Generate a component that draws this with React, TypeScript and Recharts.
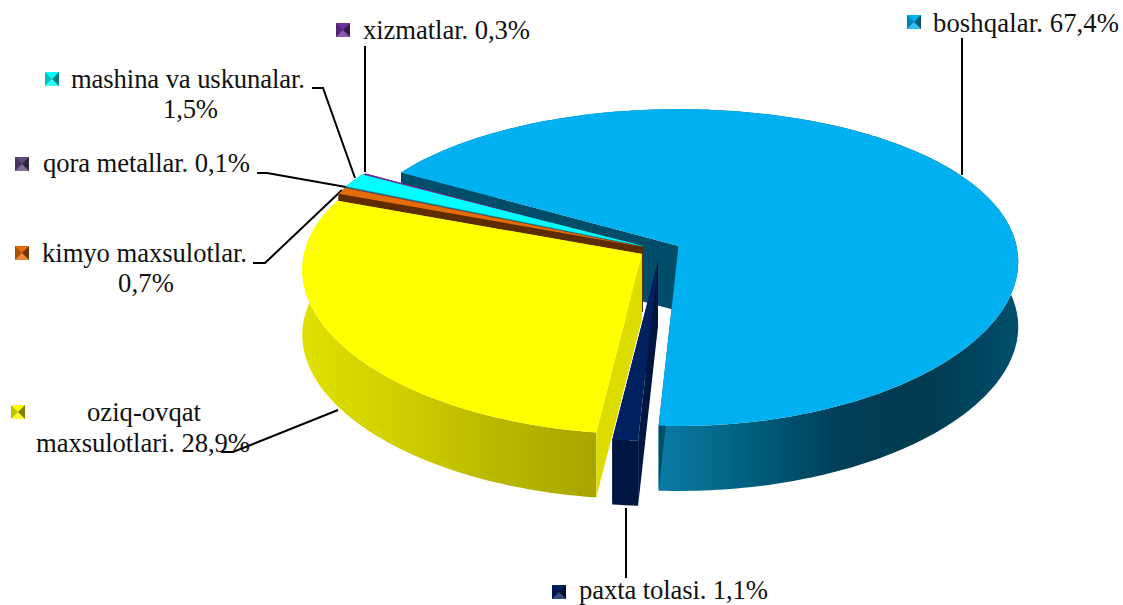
import { Pie, PieChart } from "recharts";

const names = [
  "boshqalar",
  "paxta tolasi",
  "oziq-ovqat maxsulotlari",
  "kimyo maxsulotlar",
  "qora metallar",
  "mashina va uskunalar",
  "xizmatlar",
];
const shares = [67.4, 1.1, 28.9, 0.7, 0.1, 1.5, 0.3];

const topColors = ["#00B0F0", "#002060", "#FFFF00", "#E36C09", "#604A7B", "#00FFFF", "#7030A0"];
const wallColors = ["#004D69", "#00153F", "#DCDC00", "#5F2C00", "#3F3051", "#00A8A8", "#4A2069"];
const rimStops = [
  ["#0A7BA3", "#00607F", "#003F58", "#003A50", "#004F6C"],
  ["#00153F", "#00153F"],
  ["#E0E000", "#CFCF00", "#B8B800", "#A6A600"],
  ["#5F2C00", "#5F2C00"],
  ["#3F3051", "#3F3051"],
  ["#00A8A8", "#00A8A8"],
  ["#4A2069", "#4A2069"],
];

// how far each slice is pulled out of the pie, in pixels
const pullX = [0.5, -20, -36, -35, -35, -35, -35];
const pullY = [0, 15, 8, 1, 1, 0, 1];

// back to front
const paintOrder = [0, 6, 5, 4, 3, 2, 1];

const rows = names.map((name, i) => ({ name, value: shares[i] }));

const WIDTH = 1123;
const HEIGHT = 605;
const RADIUS = 338;
const TILT = 0.46;
const PERSPECTIVE_X = 0.1;
const PERSPECTIVE_Y = 0.136;
const DEPTH = 65;

interface Pt {
  x: number;
  y: number;
  v: number;
}

function toPath(points: Pt[]) {
  return points.map((p, i) => `${i === 0 ? "M" : "L"}${p.x.toFixed(1)} ${p.y.toFixed(1)}`).join(" ") + " Z";
}

function shifted(points: Pt[]) {
  return points.map((p) => ({ ...p, y: p.y + DEPTH }));
}

function rimPoints(ax: number, ay: number, r: number, startAngle: number, endAngle: number) {
  const steps = Math.max(2, Math.ceil(Math.abs(endAngle - startAngle)));
  const out: Pt[] = [];
  for (let i = 0; i <= steps; i += 1) {
    const a = ((startAngle + ((endAngle - startAngle) * i) / steps) * Math.PI) / 180;
    const u = Math.cos(a);
    const v = -Math.sin(a);
    const sx = 1 / (1 - PERSPECTIVE_X * v);
    const sy = 1 / (1 - PERSPECTIVE_Y * v);
    out.push({ x: ax + r * u * sx, y: ay + r * TILT * v * sy, v });
  }
  return out;
}

// draws one slice as a tilted solid, only for the slice named by idx
function sliceShape(idx: number) {
  return function SliceShape(props: any) {
    if (props.name !== names[idx]) return null;
    const ax = props.cx + pullX[idx];
    const ay = props.cy + pullY[idx];
    const rim = rimPoints(ax, ay, props.outerRadius, props.startAngle, props.endAngle);
    const apex: Pt = { x: ax, y: ay, v: 0 };
    const first = rim[0];
    const last = rim[rim.length - 1];
    const front = rim.filter((p) => p.v > -0.02);
    const xs = (front.length > 1 ? front : rim).map((p) => p.x);
    const gradId = `rim-${idx}`;
    const stops = rimStops[idx];
    return (
      <g>
        <defs>
          <linearGradient id={gradId} gradientUnits="userSpaceOnUse" x1={Math.min(...xs)} x2={Math.max(...xs)} y1={0} y2={0}>
            {stops.map((c, i) => (
              <stop key={i} offset={i / (stops.length - 1)} stopColor={c} />
            ))}
          </linearGradient>
        </defs>
        <path d={toPath([...rim, ...shifted(rim).reverse()])} fill={`url(#${gradId})`} />
        <path d={toPath([apex, first, ...shifted([first, apex])])} fill={wallColors[idx]} />
        <path d={toPath([apex, last, ...shifted([last, apex])])} fill={wallColors[idx]} />
        <path d={toPath([apex, ...rim])} fill={topColors[idx]} />
      </g>
    );
  };
}

const labelLines = [
  { text: "boshqalar. 67,4%", x: 933, y: 32, w: 186 },
  { text: "xizmatlar. 0,3%", x: 363, y: 39, w: 167 },
  { text: "mashina va uskunalar.", x: 71, y: 88, w: 234 },
  { text: "1,5%", x: 163, y: 118, w: 55 },
  { text: "qora metallar. 0,1%", x: 43, y: 172, w: 207 },
  { text: "kimyo maxsulotlar.", x: 42, y: 262, w: 205 },
  { text: "0,7%", x: 118, y: 292, w: 56 },
  { text: "oziq-ovqat", x: 87, y: 421, w: 114 },
  { text: "maxsulotlari. 28,9%", x: 36, y: 452, w: 214 },
  { text: "paxta tolasi. 1,1%", x: 579, y: 599, w: 189 },
];

const leaders = [
  "962,38 962,175",
  "365,46 365,172",
  "312,88 323,88 355,178",
  "257,173 267,173 346,187",
  "253,263 265,263 342,190",
  "221,452 233,452 338,410",
  "626,508 626,578",
];

const legendKeys = [
  { idx: 0, x: 907, y: 15 },
  { idx: 6, x: 336, y: 23 },
  { idx: 5, x: 45, y: 72 },
  { idx: 4, x: 15, y: 157 },
  { idx: 3, x: 15, y: 246 },
  { idx: 2, x: 11, y: 405 },
  { idx: 1, x: 552, y: 585 },
];

function LegendKey({ idx, x, y }: { idx: number; x: number; y: number }) {
  const n = 14;
  const cx = x + n / 2;
  const cy = y + n / 2;
  return (
    <g>
      <rect x={x} y={y} width={n} height={n} fill={topColors[idx]} />
      <polygon points={`${x},${y} ${cx},${cy} ${x},${y + n}`} fill="#000" fillOpacity={0.25} />
      <polygon points={`${x + n},${y} ${cx},${cy} ${x + n},${y + n}`} fill="#000" fillOpacity={0.5} />
      <polygon points={`${x},${y + n} ${cx},${cy} ${x + n},${y + n}`} fill="#fff" fillOpacity={0.2} />
    </g>
  );
}

export default function App() {
  return (
    <div style={{ position: "absolute", left: 0, top: 0, width: WIDTH, height: HEIGHT, background: "#fff" }}>
      <PieChart width={WIDTH} height={HEIGHT} margin={{ top: 0, right: 0, bottom: 0, left: 0 }}>
        {paintOrder.map((idx) => {
          const shape = sliceShape(idx);
          return (
            <Pie
              key={names[idx]}
              data={rows}
              dataKey="value"
              nameKey="name"
              cx={678}
              cy={246}
              innerRadius={0}
              outerRadius={RADIUS}
              startAngle={149.6}
              endAngle={-210.4}
              stroke="none"
              isAnimationActive={false}
              shape={shape}
              activeShape={shape}
              inactiveShape={shape}
            />
          );
        })}
        <g>
          {leaders.map((points) => (
            <polyline key={points} points={points} fill="none" stroke="#000" strokeWidth={2} />
          ))}
          {legendKeys.map((k) => (
            <LegendKey key={k.idx} {...k} />
          ))}
          {labelLines.map((l) => (
            <text
              key={l.text}
              x={l.x}
              y={l.y}
              fontFamily="'Liberation Serif', serif"
              fontSize={26.67}
              fill="#111"
              textLength={l.w}
              lengthAdjust="spacing"
            >
              {l.text}
            </text>
          ))}
        </g>
      </PieChart>
    </div>
  );
}
